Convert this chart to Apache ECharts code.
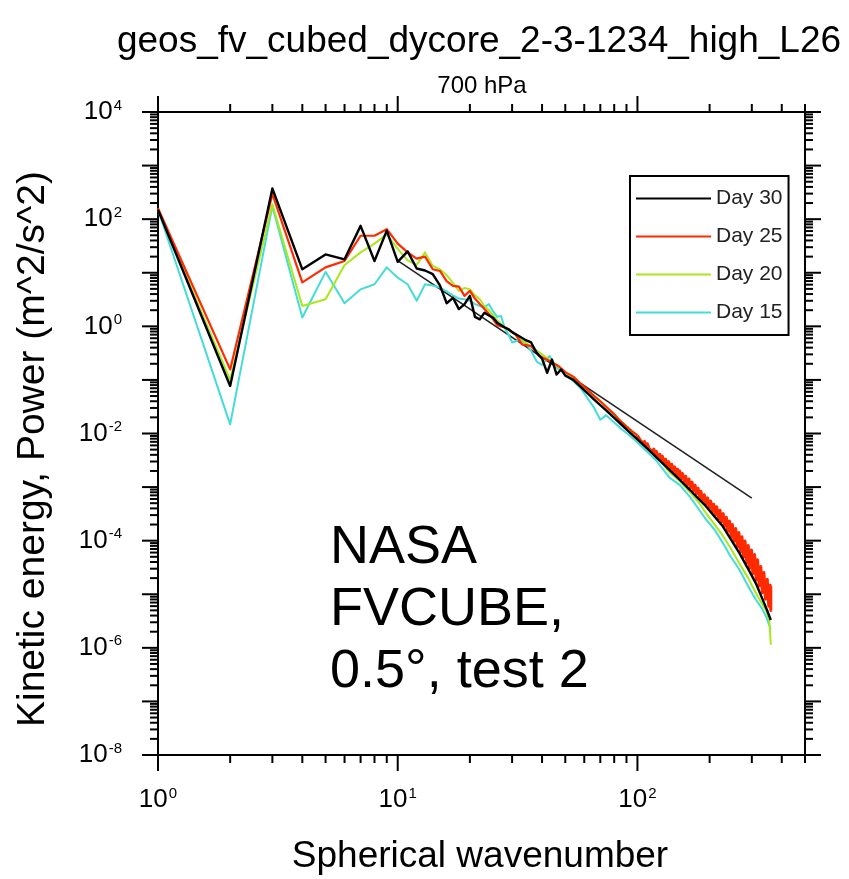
<!DOCTYPE html>
<html>
<head>
<meta charset="utf-8">
<title>KE spectrum 700 hPa</title>
<style>
    html, body { margin: 0; padding: 0; background: #fff; }
    #keSpectrum { width: 849px; height: 879px; }
</style>
<script src="https://cdn.jsdelivr.net/npm/echarts@6.0.0/dist/echarts.min.js"></script>
</head>
<body>
<div id="keSpectrum"></div>
<script>
    // [wavenumber, power] pairs
    var day30 = [
        [1,150],[2,0.077],[3,375],[4,11.6],[5,22],[6,17.8],[7,75],[8,16.6],[9,61],[10,16],
        [11,25],[12,12],[13,11],[14,9.4],[15,5.8],[16,2.7],[17,3.4],[18,2.1],[19,2.6],[20,3.7],
        [21,1.5],[22,1.35],[23,1.8],[24,1.6],[25,1.45],[26,1.17],[27,1.05],[28,0.95],[29,0.88],[30,0.78],
        [32,0.66],[34,0.56],[36,0.5],[38,0.32],[40,0.25],[42,0.136],[44,0.24],[46,0.126],[48,0.157],[50,0.12],
        [54,0.1],[58,0.074],[62,0.056],[66,0.043],[70,0.034],[75,0.0255],[80,0.0195],[85,0.0152],[90,0.012],[96,0.0091],
        [100,0.0078],[110,0.0052],[120,0.0036],[136,0.0021],[150,0.00137],[165,9.0e-4],[180,6.0e-4],[193,4.4e-4],
        [210,2.8e-4],[227,1.85e-4],[245,1.07e-4],[266,5.9e-5],[290,2.95e-5],[312,1.6e-5],[336,7.2e-6],[350,4.6e-6],[360,3.3e-6]
    ];
    var day25 = [
        [1,160],[2,0.157],[3,295],[4,6.6],[5,12.6],[6,16.6],[7,49],[8,49],[9,65],[10,35],
        [11,24],[12,18.4],[13,20],[14,11.6],[15,10.8],[16,7],[17,5.7],[18,5.5],[19,3.7],[20,4.6],
        [21,3.3],[22,2.6],[23,2.1],[24,1.7],[25,1.35],[26,1.05],[27,1.0],[28,0.95],[29,0.88],[31,0.71],
        [33,0.46],[36,0.43],[39,0.28],[43,0.225],[47,0.18],[50,0.14],[54,0.115],[58,0.085],[62,0.065],[66,0.05],
        [70,0.04],[75,0.03],[80,0.023],[85,0.017],[90,0.0135],[95,0.011],[100,9.2e-3]
    ];
    // noisy tail of Day 25: alternating upper / lower edge of the red band
    var day25Tail = [
        [100,9.2e-3],[103,7.35e-3],[104,7.9e-3],[106,6.5e-3],[107,7.1e-3],[109,5.8e-3],[110,6.4e-3],[112,5.2e-3],
        [114,5.6e-3],[115,4.6e-3],[117,5.1e-3],[119,4.0e-3],[120,4.6e-3],[122,3.6e-3],[124,4.1e-3],[126,3.16e-3],
        [127,3.75e-3],[129,2.87e-3],[131,3.33e-3],[133,2.52e-3],[135,2.98e-3],[137,2.23e-3],[139,2.67e-3],[141,1.97e-3],
        [143,2.39e-3],[145,1.75e-3],[147,2.15e-3],[149,1.55e-3],
        [150,1.99e-3],[152,1.43e-3],[154,1.8e-3],[157,1.24e-3],[159,1.59e-3],[161,1.11e-3],[164,1.42e-3],[166,9.7e-4],
        [169,1.24e-3],[171,8.5e-4],[174,1.08e-3],[176,7.4e-4],[179,9.5e-4],[182,6.3e-4],[184,8.4e-4],[187,5.6e-4],
        [190,7.2e-4],[193,4.8e-4],[196,6.3e-4],[199,4.1e-4],[202,5.5e-4],[205,3.5e-4],[208,4.8e-4],[211,3.03e-4],
        [214,4.3e-4],[218,2.57e-4],[221,3.7e-4],[224,2.24e-4],[228,3.2e-4],[231,1.85e-4],[235,2.73e-4],[238,1.49e-4],
        [242,2.33e-4],[246,1.18e-4],[249,2.0e-4],[253,9.7e-5],[257,1.68e-4],[261,7.7e-5],[265,1.42e-4],[269,6.2e-5],
        [273,1.18e-4],[277,4.9e-5],[281,9.9e-5],[286,3.8e-5],[290,8.1e-5],[294,3.05e-5],[299,6.7e-5],[303,2.4e-5],
        [308,5.5e-5],[313,1.85e-5],[317,4.4e-5],[322,1.42e-5],[327,3.3e-5],[332,1.07e-5],[337,2.54e-5],[342,8.1e-6],
        [348,1.9e-5],[353,6.0e-6],[358,1.47e-5],[360,5.0e-6],[360,1.4e-5]
    ];
    var day20 = [
        [1,150],[2,0.10],[3,190],[4,2.4],[5,3.2],[6,14],[7,24],[8,35],[9,52],[10,28],
        [11,17],[12,14],[13,24],[14,13.4],[15,11.6],[16,9],[17,6.5],[18,4.6],[19,5.2],[20,4.9],
        [21,3.8],[22,3.2],[23,2.4],[24,2.0],[25,1.6],[26,1.3],[27,1.1],[28,0.95],[29,0.85],[30,0.78],
        [33,0.55],[36,0.42],[40,0.3],[45,0.2],[50,0.14],[55,0.1],[60,0.072],[66,0.05],[72,0.036],[80,0.022],
        [88,0.015],[95,0.011],[100,0.0085],[110,0.0058],[120,0.0039],[136,0.0019],[150,0.0013],[165,8.2e-4],
        [180,5.2e-4],[193,3.3e-4],[210,2.0e-4],[227,1.24e-4],[245,7.2e-5],[266,3.8e-5],[290,2.0e-5],[312,1.05e-5],
        [330,6.8e-6],[345,4.8e-6],[355,3.2e-6],[360,1.14e-6]
    ];
    var day15 = [
        [1,150],[2,0.0148],[3,175],[4,1.46],[5,10.4],[6,2.7],[7,4.9],[8,6.1],[9,12.6],[10,8.1],
        [11,6.1],[12,3.0],[13,6.1],[14,5.8],[15,5.3],[16,4.5],[17,3.8],[18,3.3],[19,3.2],[20,3.0],
        [21,2.6],[22,2.4],[23,2.3],[24,2.6],[25,1.9],[26,1.5],[27,1.56],[28,0.9],[29,0.7],[30,0.5],
        [32,0.55],[34,0.5],[36,0.35],[38,0.22],[40,0.19],[43,0.28],[46,0.17],[50,0.13],[54,0.095],[58,0.07],
        [62,0.045],[66,0.03],[70,0.018],[74,0.022],[80,0.016],[86,0.012],[92,0.0095],[100,0.0068],[110,0.0045],
        [120,0.0031],[136,0.0015],[150,0.0011],[165,6.7e-4],[180,3.9e-4],[193,2.5e-4],[210,1.6e-4],[227,9.1e-5],
        [245,5.0e-5],[266,2.9e-5],[290,1.4e-5],[312,7.9e-6],[330,5.5e-6],[344,3.85e-6],[360,2.2e-6]
    ];
    // k^-3 reference line
    var refSlope = [[10,16.8],[300,6.2e-4]];

    var legendNames = ['Day 30','Day 25','Day 20','Day 15'];
    var X_MIN = 1, X_MAX = 500, Y_MIN = 1e-8, Y_MAX = 1e4;
    var FONT = '"Liberation Sans", Arial, Helvetica, sans-serif';

    // tick marks on all four sides (decades long, 2..9 short)
    var xTicks = [], yTicks = [];
    for (var e = 0; e < 3; e++) {
        for (var m = 1; m < 10; m++) {
            var v = m * Math.pow(10, e);
            if (v <= X_MAX) xTicks.push([v, m === 1 ? 1 : 0]);
        }
    }
    for (var e2 = -8; e2 < 4; e2++) {
        for (var m2 = 1; m2 < 10; m2++) {
            yTicks.push([m2 * Math.pow(10, e2), m2 === 1 ? 1 : 0]);
        }
    }
    yTicks.push([Y_MAX, 1]);
    var tickMarks = [];
    xTicks.forEach(function (t) {
        tickMarks.push([t[0], Y_MIN, 0, t[1]]);
        tickMarks.push([t[0], Y_MAX, 1, t[1]]);
    });
    yTicks.forEach(function (t) {
        tickMarks.push([X_MIN, t[0], 2, t[1]]);
        tickMarks.push([X_MAX, t[0], 3, t[1]]);
    });

    function renderTick(params, api) {
        var p = api.coord([api.value(0), api.value(1)]);
        var side = api.value(2);
        var len = api.value(3) ? 16 : 8;
        var dx = [0, 0, -len, len][side];
        var dy = [len, -len, 0, 0][side];
        return {
            type: 'line',
            shape: { x1: p[0], y1: p[1], x2: p[0] + dx, y2: p[1] + dy },
            style: { stroke: '#000', lineWidth: 2 }
        };
    }

    function powerLabel(value) {
        var ex = Math.log10(value);
        var r = Math.round(ex);
        if (Math.abs(ex - r) > 1e-6) return '';
        return '{b|10}{s|' + r + '}';
    }
    var labelRich = {
        b: { fontSize: 26, fontFamily: FONT, color: '#000', lineHeight: 30 },
        s: { fontSize: 15, fontFamily: FONT, color: '#000', lineHeight: 15, verticalAlign: 'top', padding: [1, 0, 0, 1] }
    };

    function lineSeries(name, data, color, width) {
        return {
            name: name,
            type: 'line',
            data: data,
            symbol: 'none',
            animation: false,
            lineStyle: { color: color, width: width, join: 'round' },
            itemStyle: { color: color }
        };
    }

    var option = {
        backgroundColor: '#fff',
        animation: false,
        grid: { left: 158, right: 44, top: 112, bottom: 124, show: true, borderColor: '#000', borderWidth: 2 },
        legend: {
            data: legendNames,
            orient: 'vertical',
            left: 630,
            top: 176,
            padding: [12, 6, 12, 6],
            icon: 'rect',
            itemWidth: 75,
            itemHeight: 2,
            itemGap: 17,
            borderColor: '#000',
            borderWidth: 2,
            selectedMode: false,
            textStyle: { fontSize: 21, color: '#222', fontFamily: FONT }
        },
        xAxis: {
            type: 'log',
            logBase: 10,
            min: X_MIN,
            max: X_MAX,
            axisLine: { lineStyle: { color: '#000', width: 2 } },
            axisTick: { show: false },
            splitLine: { show: false },
            axisLabel: { margin: 30, formatter: powerLabel, rich: labelRich, showMaxLabel: false }
        },
        yAxis: {
            type: 'log',
            logBase: 10,
            min: Y_MIN,
            max: Y_MAX,
            interval: 2,
            axisLine: { lineStyle: { color: '#000', width: 2 } },
            axisTick: { show: false },
            splitLine: { show: false },
            axisLabel: { margin: 36, formatter: powerLabel, rich: labelRich }
        },
        graphic: [
            { type: 'text', x: 479, y: 42, style: { text: 'geos_fv_cubed_dycore_2-3-1234_high_L26', fontSize: 37, fontFamily: FONT, fill: '#000', textAlign: 'center', textVerticalAlign: 'middle' } },
            { type: 'text', x: 482, y: 86, style: { text: '700 hPa', fontSize: 24, fontFamily: FONT, fill: '#000', textAlign: 'center', textVerticalAlign: 'middle' } },
            { type: 'text', x: 33, y: 449, rotation: Math.PI / 2, style: { text: 'Kinetic energy, Power (m^2/s^2)', fontSize: 39, fontFamily: FONT, fill: '#000', textAlign: 'center', textVerticalAlign: 'middle' } },
            { type: 'text', x: 480, y: 857, style: { text: 'Spherical wavenumber', fontSize: 37, fontFamily: FONT, fill: '#000', textAlign: 'center', textVerticalAlign: 'middle' } },
            { type: 'text', x: 330, y: 517, style: { text: 'NASA\nFVCUBE,\n0.5°, test 2', fontSize: 54, lineHeight: 62, fontFamily: FONT, fill: '#000', textAlign: 'left', textVerticalAlign: 'top' } }
        ],
        series: [
            {
                name: 'ref',
                type: 'line',
                data: refSlope,
                symbol: 'none',
                animation: false,
                lineStyle: { color: '#222', width: 1.6 }
            },
            lineSeries('Day 15', day15, '#44dcd6', 2),
            lineSeries('Day 20', day20, '#a8e81c', 2),
            lineSeries('Day 25', day25, '#ff2a00', 2.2),
            lineSeries('Day 25', day25Tail, '#ff2a00', 3),
            lineSeries('Day 30', day30, '#000000', 2.4),
            {
                name: 'ticks',
                type: 'custom',
                renderItem: renderTick,
                data: tickMarks,
                encode: { x: 0, y: 1 },
                clip: false,
                silent: true,
                animation: false,
                z: 5
            }
        ]
    };

    var chart = echarts.init(document.getElementById('keSpectrum'));
    chart.setOption(option);
</script>
</body>
</html>
